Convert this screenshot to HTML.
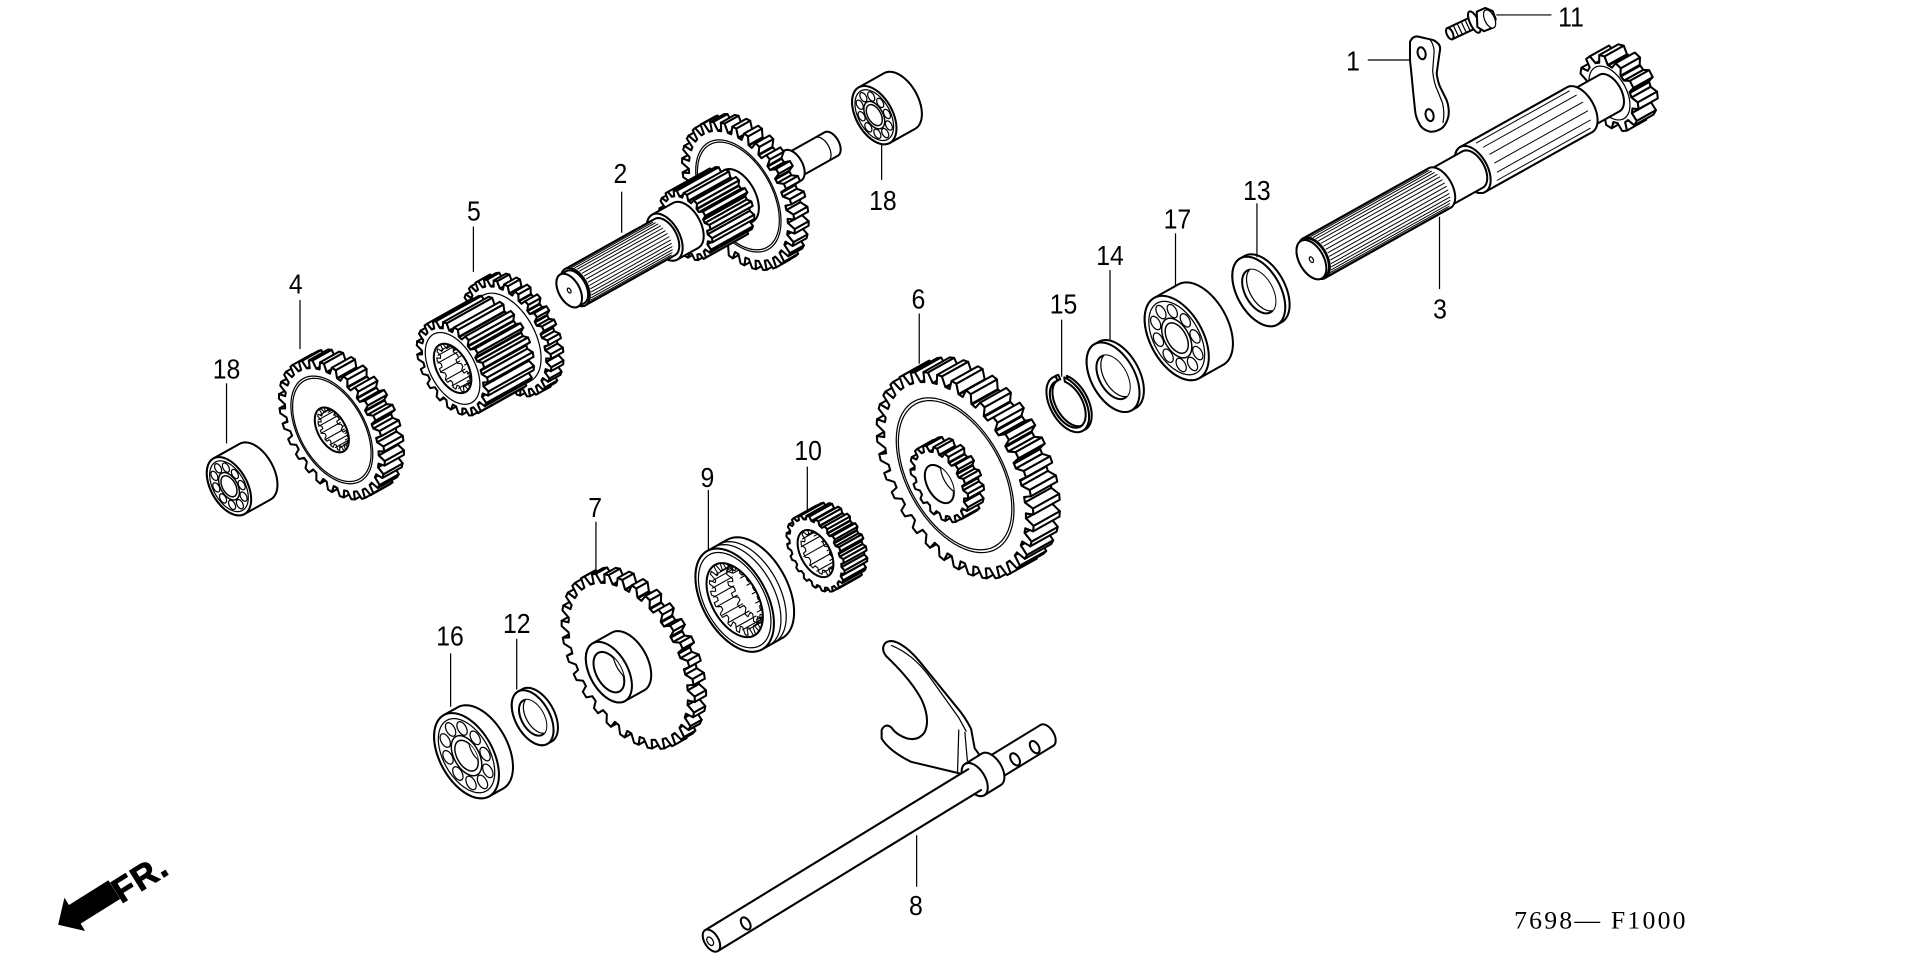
<!DOCTYPE html>
<html><head><meta charset="utf-8"><title>Transmission parts diagram</title>
<style>
html,body{margin:0;padding:0;background:#fff;width:1920px;height:959px;overflow:hidden}
svg{display:block}
.lb{font-family:"Liberation Sans",Arial,sans-serif;font-size:23px;fill:#000;stroke:none}
</style></head><body>
<svg id="s" xmlns="http://www.w3.org/2000/svg" width="1920" height="959" viewBox="0 0 1568 783" preserveAspectRatio="none">
<defs id="defs"></defs>
<rect width="1568" height="783" fill="#fff"/>
<g id="parts" fill="#fff" stroke="#000" stroke-width="1.65" stroke-linejoin="round" stroke-linecap="round"></g>

<!-- shift fork & rod (8) -->
<g fill="#fff" stroke="#000" stroke-width="1.65" stroke-linejoin="round" stroke-linecap="round">
  <ellipse cx="855" cy="600.4" rx="5.7" ry="10" transform="rotate(-31.5 855 600.4)"/>
  <polygon points="575.8,759.5 849.8,591.9 860.2,608.9 586.2,776.5" stroke="none"/>
  <line x1="575.8" y1="759.5" x2="849.8" y2="591.9"/>
  <line x1="586.2" y1="776.5" x2="860.2" y2="608.9"/>
  <ellipse cx="829" cy="620" rx="3.3" ry="5.5" transform="rotate(-31.5 829 620)"/>
  <ellipse cx="845" cy="610" rx="3.3" ry="5.5" transform="rotate(-31.5 845 610)"/>
  <path d="M804,622 L796,611 L793,595 Q788,585 781,577 L755,545 Q745,532 737,527 Q728,521 723,525 Q719,530 724,536 Q745,556 753,572 Q760,588 755,598 Q750,605 741,603 Q732,600 728,594 Q723,590 720,596 L720,603 Q726,613 744,622 L790,633 Z"/>
  <path d="M728,527 Q745,534 758,551 L783,586 L789,597" fill="none" stroke-width="1"/>
  <path d="M783,596 L782,630 M788,598 L790,621" fill="none" stroke-width="1"/>
  <ellipse cx="809.6" cy="628.1" rx="8.5" ry="15" transform="rotate(-31.5 809.6 628.1)"/>
  <polygon points="788.2,623.7 801.8,615.3 817.4,640.9 803.8,649.3" stroke="none"/>
  <line x1="788.2" y1="623.7" x2="801.8" y2="615.3"/>
  <line x1="803.8" y1="649.3" x2="817.4" y2="640.9"/>
  <ellipse cx="796" cy="636.5" rx="8.5" ry="15" transform="rotate(-31.5 796 636.5)"/>
  <polygon points="575.8,759.5 790.8,628 801.2,645 586.2,776.5" stroke="none"/>
  <line x1="575.8" y1="759.5" x2="790.8" y2="628"/>
  <line x1="586.2" y1="776.5" x2="801.2" y2="645"/>
  <ellipse cx="609" cy="754" rx="3.3" ry="5.5" transform="rotate(-31.5 609 754)"/>
  <ellipse cx="581" cy="768" rx="5.7" ry="10" transform="rotate(-31.5 581 768)"/>
  <ellipse cx="580" cy="768.5" rx="2.3" ry="3.8" transform="rotate(-31.5 580 768.5)" stroke-width="1"/>
</g>

<!-- part 1 plate and part 11 bolt -->
<g fill="#fff" stroke="#000" stroke-width="1.65" stroke-linejoin="round" stroke-linecap="round">
  <path d="M1151.5,34 Q1154,29 1158.3,29.9 L1170.5,32.7 Q1177,36 1176,40.8 L1174.6,50.4 L1173.3,59.9 Q1174,66 1176,70.8 L1181.4,81.7 Q1184,89 1182.8,95.3 Q1181,102 1177.4,104.8 Q1172,108 1167.8,107.5 Q1162,106 1159.7,102.1 Q1156,96 1155.6,89.8 L1154.2,76.2 L1152.9,62.6 L1151.5,49 Z"/>
  <path d="M1168,32.5 Q1172,38 1171,45 L1170,58 Q1171,68 1174,74 L1178,84 Q1180,92 1178.5,100" fill="none" stroke-width="1"/>
  <ellipse cx="1161" cy="43.5" rx="3.2" ry="5" transform="rotate(-15 1161 43.5)"/>
  <ellipse cx="1167.5" cy="94" rx="3.2" ry="5" transform="rotate(-15 1167.5 94)"/>
  <polygon points="1181.9,23 1199.9,14.5 1204.2,23.5 1186.2,32"/>
  <g stroke-width="1">
    <line x1="1187" y1="21" x2="1191" y2="29.5"/>
    <line x1="1190.2" y1="19.5" x2="1194.2" y2="28"/>
    <line x1="1193.4" y1="18" x2="1197.4" y2="26.5"/>
    <line x1="1196.6" y1="16.5" x2="1200.6" y2="25"/>
  </g>
  <ellipse cx="1184" cy="27.5" rx="2.5" ry="5" transform="rotate(-25 1184 27.5)"/>
  <ellipse cx="1204" cy="18" rx="3.5" ry="9.5" transform="rotate(-25 1204 18)"/>
  <polygon points="1206,9.5 1213,6.5 1219,9 1221.5,15.5 1219.5,22.5 1212,25.5 1206.5,22"/>
  <ellipse cx="1216.5" cy="15.5" rx="4" ry="8" transform="rotate(-25 1216.5 15.5)" stroke-width="1"/>
</g>

<!-- leaders -->
<g stroke="#000" stroke-width="1" fill="none">
<line x1="1117" y1="49" x2="1152" y2="49"/>
<line x1="1222" y1="12.2" x2="1267" y2="12.2"/>
<line x1="507.7" y1="156.5" x2="507.7" y2="190"/>
<line x1="720" y1="118.4" x2="720" y2="147"/>
<line x1="1026.5" y1="166" x2="1026.5" y2="210"/>
<line x1="960" y1="190.5" x2="960" y2="232.7"/>
<line x1="906.5" y1="220.5" x2="906.5" y2="277.7"/>
<line x1="867" y1="261" x2="867" y2="307.6"/>
<line x1="1175.6" y1="177" x2="1175.6" y2="236"/>
<line x1="386.6" y1="185" x2="386.6" y2="222"/>
<line x1="245" y1="245" x2="245" y2="285"/>
<line x1="185" y1="313" x2="185" y2="362"/>
<line x1="750.7" y1="256" x2="750.7" y2="297"/>
<line x1="659.3" y1="381" x2="659.3" y2="416"/>
<line x1="578.5" y1="400" x2="578.5" y2="449"/>
<line x1="486.7" y1="426" x2="486.7" y2="468"/>
<line x1="368" y1="533.5" x2="368" y2="577"/>
<line x1="422" y1="521.5" x2="422" y2="563"/>
<line x1="748.6" y1="682" x2="748.6" y2="724"/>
</g>

<!-- labels -->
<g class="lb" text-anchor="middle">
<text transform="translate(1105,57.5) scale(0.88,1)">1</text>
<text transform="translate(1283,21.8) scale(0.88,1)">11</text>
<text transform="translate(506.7,149.5) scale(0.88,1)">2</text>
<text transform="translate(721,171.5) scale(0.88,1)">18</text>
<text transform="translate(1026.5,163.3) scale(0.88,1)">13</text>
<text transform="translate(961.5,186.5) scale(0.88,1)">17</text>
<text transform="translate(906.5,216.4) scale(0.88,1)">14</text>
<text transform="translate(868.5,256) scale(0.88,1)">15</text>
<text transform="translate(1176,260) scale(0.88,1)">3</text>
<text transform="translate(387,180) scale(0.88,1)">5</text>
<text transform="translate(241.5,239.6) scale(0.88,1)">4</text>
<text transform="translate(185,309) scale(0.88,1)">18</text>
<text transform="translate(750,252) scale(0.88,1)">6</text>
<text transform="translate(660,375.7) scale(0.88,1)">10</text>
<text transform="translate(577.7,397.5) scale(0.88,1)">9</text>
<text transform="translate(486,422) scale(0.88,1)">7</text>
<text transform="translate(367.5,527) scale(0.88,1)">16</text>
<text transform="translate(422,517) scale(0.88,1)">12</text>
<text transform="translate(748,747) scale(0.88,1)">8</text>
</g>

<text x="1236.5" y="758" font-family="Liberation Serif, serif" font-size="21" fill="#000" textLength="140" lengthAdjust="spacing">7698— F1000</text>

<!-- FR arrow -->
<polygon points="0,0 16,-16 16,-9 54,-9 54,9 16,9 16,16" transform="translate(47.5,755) rotate(-32)" fill="#000"/>
<text transform="translate(99,738) rotate(-32)" font-family="Liberation Sans, Arial, sans-serif" font-weight="bold" font-size="28" letter-spacing="1" fill="#000" stroke="#000" stroke-width="0.8">FR.</text>
</svg>

<script>
(function(){
var NS='http://www.w3.org/2000/svg';
var G=document.getElementById('parts'), D=document.getElementById('defs');
var K=0.57,S=0.82,U=[0.873,-0.488],V=[0.488,0.873],H=Math.PI/2;
var T={fill:'none','stroke-width':1};
var cid=0;
function el(tag,a,p){var e=document.createElementNS(NS,tag);for(var k in a)e.setAttribute(k,a[k]);(p||G).appendChild(e);return e;}
function P(c,x,y,z){var a=S*x+K*y;return [c[0]+U[0]*a+V[0]*z,c[1]+U[1]*a+V[1]*z];}
function ps(pts){return pts.map(function(p){return p[0].toFixed(2)+','+p[1].toFixed(2);}).join(' ');}
function mix(a,b){var o={};for(var k in (a||{}))o[k]=a[k];for(var k2 in (b||{}))o[k2]=b[k2];return o;}
function poly(pts,a,p){return el('polygon',mix({points:ps(pts)},a),p);}
function pline(pts,a,p){return el('polyline',mix({points:ps(pts),fill:'none'},a),p);}
function pol(r,t){return [r*Math.cos(t),r*Math.sin(t)];}
function ring(r,n){var o=[];for(var i=0;i<n;i++)o.push(pol(r,2*Math.PI*i/n));return o;}
function gearProf(N,Rt,Rr,ph){ph=ph||0;var o=[],p=2*Math.PI/N;for(var i=0;i<N;i++){var a=ph+i*p;o.push(pol(Rr,a),pol(Rr,a+0.28*p),pol(Rt,a+0.45*p),pol(Rt,a+0.78*p),pol(Rr,a+0.95*p));}return o;}
function ell(c,x,r,a,p){return poly(ring(r,72).map(function(q){return P(c,x,q[0],q[1]);}),a,p);}
function arc(c,x,r,t0,t1,a,p){var o=[],n=40;for(var i=0;i<=n;i++){var t=t0+(t1-t0)*i/n;o.push(P(c,x,r*Math.cos(t),r*Math.sin(t)));}return pline(o,a||T,p);}
function cyl(c,r,x0,x1,a,p){var o=[],n=40,i,t;for(i=0;i<=n;i++){t=-H+Math.PI*i/n;o.push(P(c,x1,r*Math.cos(t),r*Math.sin(t)));}for(i=0;i<=n;i++){t=H+Math.PI*i/n;o.push(P(c,x0,r*Math.cos(t),r*Math.sin(t)));}poly(o,a,p);return ell(c,x0,r,a,p);}
function extrude(c,prof,x0,x1,a,p){var n=prof.length,q=[];for(var i=0;i<n;i++){var j=(i+1)%n;if(prof[j][1]-prof[i][1]>1e-6)q.push([i,j,(prof[i][0]+prof[j][0])/2]);}
 q.sort(function(u,v){return u[2]-v[2];});
 q.forEach(function(e){var i=e[0],j=e[1];poly([P(c,x0,prof[i][0],prof[i][1]),P(c,x0,prof[j][0],prof[j][1]),P(c,x1,prof[j][0],prof[j][1]),P(c,x1,prof[i][0],prof[i][1])],a,p);});
 return poly(prof.map(function(r){return P(c,x0,r[0],r[1]);}),a,p);}
function clipEll(c,x,r,p){var id='cp'+(cid++);var cp=el('clipPath',{id:id},D);ell(c,x,r,{},cp);return el('g',{'clip-path':'url(#'+id+')'},p);}
function hole(c,x0,x1,r,a){ell(c,x0,r,a||{});var g=clipEll(c,x0,r);ell(c,x1,r,{'stroke-width':1},g);return g;}
function spl(c,r,x0,x1,n){for(var i=0;i<n;i++){var t=-H+Math.PI*(i+0.5)/n;pline([P(c,x0,r*Math.cos(t),r*Math.sin(t)),P(c,x1,r*Math.cos(t),r*Math.sin(t))],{'stroke-width':0.8});}}
function splBore(c,x0,x1,r,N){ell(c,x0,r,{});var g=clipEll(c,x0,r);
 var pr=gearProf(N,r*0.8,r,0.1);
 poly(pr.map(function(q){return P(c,x1,q[0],q[1]);}),{fill:'none','stroke-width':0.9},g);
 for(var i=0;i<N;i++){var t=2*Math.PI*(i+0.3)/N;pline([P(c,x0,r*0.8*Math.cos(t),r*0.8*Math.sin(t)),P(c,x1,r*0.8*Math.cos(t),r*0.8*Math.sin(t))],{'stroke-width':0.9},g);}
 poly(pr.map(function(q){return P(c,x0+(x1-x0)*0.15,q[0],q[1]);}),{fill:'none','stroke-width':0.9},g);}
function bearing(c,R,d){cyl(c,R,0,d);ell(c,0,R*0.87,T);
 var rm=R*0.66,rb=R*0.16;
 for(var k=0;k<10;k++){var t=2*Math.PI*k/10+0.25,y0=rm*Math.cos(t),z0=rm*Math.sin(t),pts=[];for(var i=0;i<20;i++){var s=2*Math.PI*i/20;pts.push(P(c,0,y0+rb*Math.cos(s),z0+rb*Math.sin(s)));}poly(pts,{'stroke-width':1});}
 ell(c,0,R*0.47,{'stroke-width':1.2});hole(c,0,d,R*0.36,{'stroke-width':1.2});}
function washer(c,R,r,d){cyl(c,R,0,d);hole(c,0,d,r);}
function cring(c,x,R,r,g0,g1,a){var o=[],n=60,span=g0+2*Math.PI-g1,i,t;for(i=0;i<=n;i++){t=g1+span*i/n;o.push(P(c,x,R*Math.cos(t),R*Math.sin(t)));}for(i=n;i>=0;i--){t=g1+span*i/n;o.push(P(c,x,r*Math.cos(t),r*Math.sin(t)));}return poly(o,a);}

/* upper bearing 18 */
bearing([714,94],26,29);

/* gear cluster 2 */
var C2=[603,160];
cyl(C2,11,62,106);arc(C2,95,11,-H,H);
cyl(C2,14,16,62);arc(C2,40,14,-H,H);
extrude(C2,gearProf(30,66,58,0.05),0,16);
ell(C2,0,50,T);ell(C2,0,48,T);
cyl(C2,24,-12,0);
extrude(C2,gearProf(16,31,26,0.12),-60,-12);
cyl(C2,21,-84,-60);
cyl(C2,17,-186,-84);spl(C2,17,-184,-92,18);
cyl(C2,15,-193,-186);
ell(C2,-193,2.2,{'stroke-width':1});

/* gear 5 */
var C5=[414,276];
extrude(C5,gearProf(26,52,46),0,14);ell(C5,0,40,T);
extrude(C5,gearProf(20,42,36,0.05),-62,-10);ell(C5,-62,32,T);splBore(C5,-62,-40,22,14);

/* gear 4 */
var C4=[271,351];
extrude(C4,gearProf(28,62,55),0,22);ell(C4,0,48,T);ell(C4,0,46,T);splBore(C4,0,22,20,16);

/* lower bearing 18 */
bearing([187,397],26,30);

/* part 10 */
var C10=[666,452];
extrude(C10,gearProf(20,34,30.5),0,26);splBore(C10,0,26,21,12);

/* part 9 */
var C9=[600,490];
cyl(C9,46,0,23);arc(C9,8,46,-H,H);arc(C9,14,46,-H,H);ell(C9,0,42.5,T);splBore(C9,0,23,33,20);

/* gear 7 */
var C7=[513,540];
extrude(C7,gearProf(30,78,70),0,13);cyl(C7,27,-22,0);hole(C7,-22,0,18);

/* washer 12, bearing 16 */
washer([435,586],24.5,16,5);
bearing([381,617],38,16);

/* right chain */
washer([1028,238],31,19.5,5);
bearing([961,276],37.6,27.5);
washer([909,308],31,19.5,5);
var C15=[872,330],g0=-80*Math.PI/180,g1=-55*Math.PI/180;
cring(C15,3,25,21,g0,g1);cring(C15,0,25,21,g0,g1);

/* gear 6 */
var C6=[780,388];
extrude(C6,gearProf(34,92,83),0,30);ell(C6,0,69,T);ell(C6,0,66.5,T);
extrude(C6,gearProf(16,34,29),-18,0);hole(C6,-18,0,17);

/* shaft 3 */
var C3=[1071,212];
extrude(C3,gearProf(11,34,27,0.3),340,362);
ell(C3,340,24,T);
cyl(C3,17,306,340);
cyl(C3,21,184,306);spl(C3,21,192,298,8);
cyl(C3,17,146,184);
cyl(C3,18.5,3,146);spl(C3,18.5,5,140,18);
cyl(C3,17.5,0,3);
ell(C3,0,2.5,{'stroke-width':1});
})();
</script>
</body></html>
